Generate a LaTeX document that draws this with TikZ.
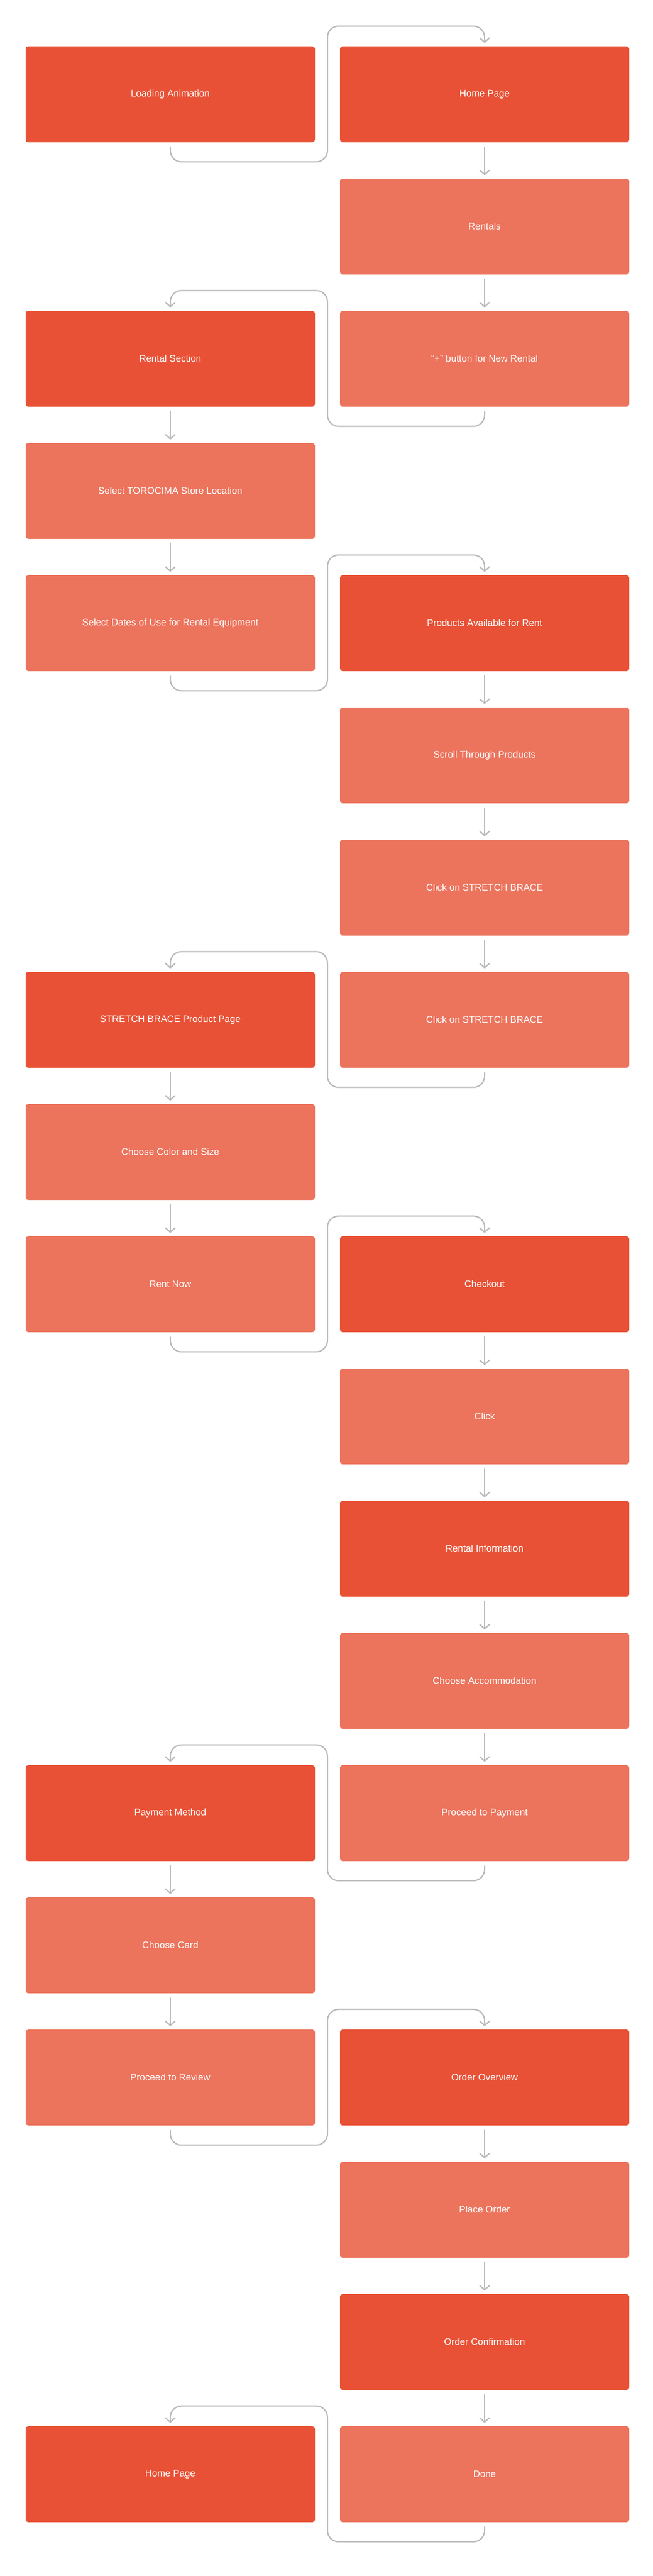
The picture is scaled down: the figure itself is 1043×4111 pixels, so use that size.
\documentclass[tikz,border=0pt]{standalone}
\usepackage{fontspec}
\setmainfont{Liberation Sans}
\usetikzlibrary{arrows.meta,calc}
\definecolor{dk}{HTML}{E85135}
\definecolor{lt}{HTML}{EC735C}
\definecolor{ln}{HTML}{B8B8B8}
\begin{document}
\begin{tikzpicture}[x=0.5pt,y=-0.5pt,
 box/.style={rounded corners=2pt,minimum width=231pt,minimum height=76.5pt,inner sep=0pt,text=white,font=\fontsize{7.6}{9}\selectfont},
 D/.style={box,fill=dk}, Lt/.style={box,fill=lt},
 conn/.style={draw=ln,line width=1pt,rounded corners=9pt,-{Straight Barb[length=3.5pt,width=8pt,line width=1pt]}}]
\fill[white] (0,0) rectangle (1043,4111);
\coordinate (g) at (523,0);
\def\L{272}\def\R{774}
\newcommand\rowy[1]{150.5+211*#1}
\node[D]  (l0)  at (\L,{\rowy{0}}) {Loading Animation};
\node[D]  (r0)  at (\R,{\rowy{0}}) {Home Page};
\node[Lt] (r1)  at (\R,{\rowy{1}}) {Rentals};
\node[D]  (l2)  at (\L,{\rowy{2}}) {Rental Section};
\node[Lt] (r2)  at (\R,{\rowy{2}}) {``+'' button for New Rental};
\node[Lt] (l3)  at (\L,{\rowy{3}}) {Select TOROCIMA Store Location};
\node[Lt] (l4)  at (\L,{\rowy{4}}) {Select Dates of Use for Rental Equipment};
\node[D]  (r4)  at (\R,{\rowy{4}}) {Products Available for Rent};
\node[Lt] (r5)  at (\R,{\rowy{5}}) {Scroll Through Products};
\node[Lt] (r6)  at (\R,{\rowy{6}}) {Click on STRETCH BRACE};
\node[D]  (l7)  at (\L,{\rowy{7}}) {STRETCH BRACE Product Page};
\node[Lt] (r7)  at (\R,{\rowy{7}}) {Click on STRETCH BRACE};
\node[Lt] (l8)  at (\L,{\rowy{8}}) {Choose Color and Size};
\node[Lt] (l9)  at (\L,{\rowy{9}}) {Rent Now};
\node[D]  (r9)  at (\R,{\rowy{9}}) {Checkout};
\node[Lt] (r10) at (\R,{\rowy{10}}) {Click};
\node[D]  (r11) at (\R,{\rowy{11}}) {Rental Information};
\node[Lt] (r12) at (\R,{\rowy{12}}) {Choose Accommodation};
\node[D]  (l13) at (\L,{\rowy{13}}) {Payment Method};
\node[Lt] (r13) at (\R,{\rowy{13}}) {Proceed to Payment};
\node[Lt] (l14) at (\L,{\rowy{14}}) {Choose Card};
\node[Lt] (l15) at (\L,{\rowy{15}}) {Proceed to Review};
\node[D]  (r15) at (\R,{\rowy{15}}) {Order Overview};
\node[Lt] (r16) at (\R,{\rowy{16}}) {Place Order};
\node[D]  (r17) at (\R,{\rowy{17}}) {Order Confirmation};
\node[D]  (l18) at (\L,{\rowy{18}}) {Home Page};
\node[Lt] (r18) at (\R,{\rowy{18}}) {Done};
\newcommand\dn[2]{\draw[conn] ([yshift=-3.5pt]#1.south) -- ([yshift=2.5pt]#2.north);}
\newcommand\cross[2]{\draw[conn] ([yshift=-3.5pt]#1.south) -- ($(#1.south)+(0,-15.5pt)$) -| ($(#2.north -| g)+(0,16pt)$) -| ([yshift=2.5pt]#2.north);}
\cross{l0}{r0}
\dn{r0}{r1}\dn{r1}{r2}
\cross{r2}{l2}
\dn{l2}{l3}\dn{l3}{l4}
\cross{l4}{r4}
\dn{r4}{r5}\dn{r5}{r6}\dn{r6}{r7}
\cross{r7}{l7}
\dn{l7}{l8}\dn{l8}{l9}
\cross{l9}{r9}
\dn{r9}{r10}\dn{r10}{r11}\dn{r11}{r12}\dn{r12}{r13}
\cross{r13}{l13}
\dn{l13}{l14}\dn{l14}{l15}
\cross{l15}{r15}
\dn{r15}{r16}\dn{r16}{r17}\dn{r17}{r18}
\cross{r18}{l18}
\end{tikzpicture}
\end{document}
